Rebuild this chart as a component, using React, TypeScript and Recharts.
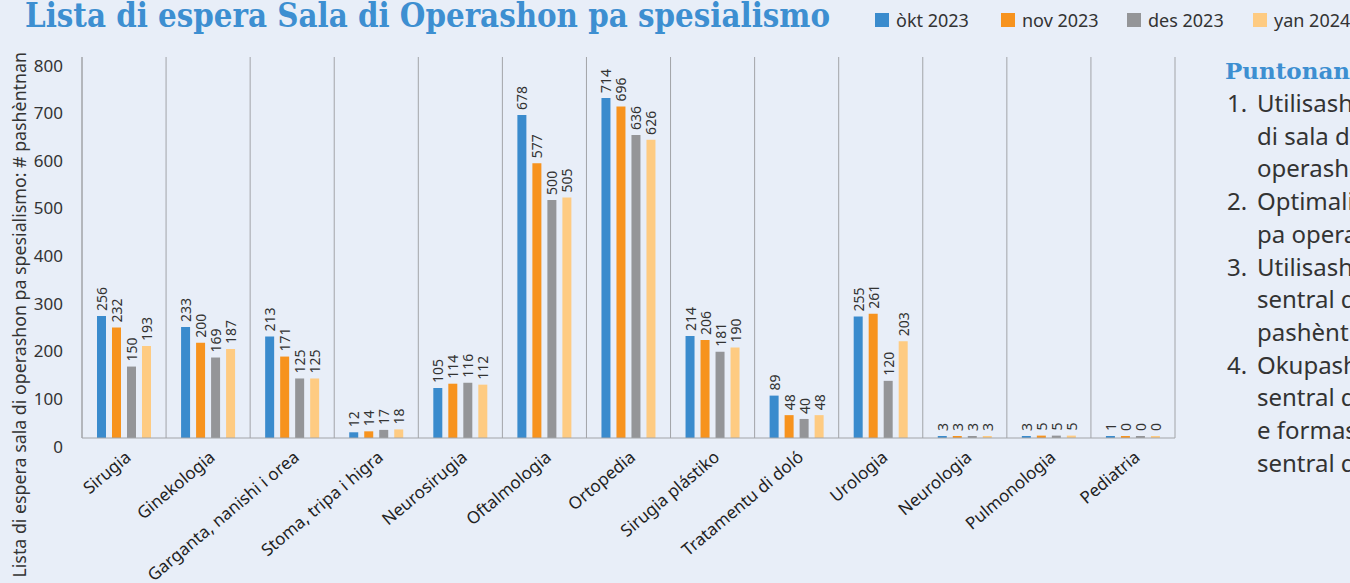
import React from 'react';
import { BarChart, Bar, XAxis, YAxis, LabelList, ReferenceLine } from 'recharts';

const categories = [
  'Sirugia',
  'Ginekologia',
  'Garganta, nanishi i orea',
  'Stoma, tripa i higra',
  'Neurosirugia',
  'Oftalmologia',
  'Ortopedia',
  'Sirugia plástiko',
  'Tratamentu di doló',
  'Urologia',
  'Neurologia',
  'Pulmonologia',
  'Pediatria',
];

const okt2023 = [256, 233, 213, 12, 105, 678, 714, 214, 89, 255, 3, 3, 1];
const nov2023 = [232, 200, 171, 14, 114, 577, 696, 206, 48, 261, 3, 5, 0];
const des2023 = [150, 169, 125, 17, 116, 500, 636, 181, 40, 120, 3, 5, 0];
const yan2024 = [193, 187, 125, 18, 112, 505, 626, 190, 48, 203, 3, 5, 0];

const yTicks = [0, 100, 200, 300, 400, 500, 600, 700, 800];

const series = [
  { key: 'okt', label: 'òkt 2023', values: okt2023, color: '#3a8bcd' },
  { key: 'nov', label: 'nov 2023', values: nov2023, color: '#f7931e' },
  { key: 'des', label: 'des 2023', values: des2023, color: '#949598' },
  { key: 'yan', label: 'yan 2024', values: yan2024, color: '#fecb82' },
];

const notes = [
  ['Utilisashon di tempu', 'di sala di', 'operashon'],
  ['Optimalisashon di tempu', 'pa operashon'],
  ['Utilisashon di kuido', 'sentral di', 'pashènt'],
  ['Okupashon di kama', 'sentral di', 'e formashon', 'sentral di'],
];

const data = categories.map((name, i) => {
  const row: Record<string, string | number> = { name };
  series.forEach((s) => {
    row[s.key] = s.values[i];
  });
  return row;
});

const BG = '#e8eef8';
const BLUE = '#3d8fd1';
const TEXT = '#333333';
const LINE = '#a2a4a8';

const BarValue = (props: any) => {
  const { x, y, width, value } = props;
  const cx = x + width / 2;
  const ty = y - 5;
  return (
    <text
      x={cx}
      y={ty}
      transform={`rotate(-90 ${cx} ${ty})`}
      textAnchor="start"
      dominantBaseline="central"
      fontSize={14}
      fill={TEXT}
    >
      {value}
    </text>
  );
};

const CategoryTick = (props: any) => {
  const { x, y, payload } = props;
  return (
    <g transform={`translate(${x + 8},${y + 13}) rotate(-40)`}>
      <text x={0} y={0} textAnchor="end" fontSize={17} fill="#222">
        {payload.value}
      </text>
    </g>
  );
};

const ValueTick = (props: any) => {
  const { x, y, payload } = props;
  return (
    <text x={x} y={y} dy={8} textAnchor="end" dominantBaseline="central" fontSize={17} fill={TEXT}>
      {payload.value}
    </text>
  );
};

export default function App() {
  const last = categories[categories.length - 1];

  return (
    <div
      style={{
        position: 'fixed',
        left: 0,
        top: 0,
        width: 1350,
        height: 583,
        background: BG,
        overflow: 'hidden',
        fontFamily: '"Noto Sans", sans-serif',
      }}
    >
      <svg width={1350} height={583} style={{ position: 'absolute', left: 0, top: 0 }}>
        <text
          x={25}
          y={27}
          fontFamily='"DejaVu Serif", serif'
          fontWeight="bold"
          fontSize={34}
          fill={BLUE}
          textLength={805}
          lengthAdjust="spacingAndGlyphs"
        >
          Lista di espera Sala di Operashon pa spesialismo
        </text>
        <text
          x={19}
          y={52}
          transform="rotate(-90 19 52)"
          textAnchor="end"
          dominantBaseline="central"
          fontSize={17.8}
          fill={TEXT}
        >
          Lista di espera sala di operashon pa spesialismo: # pashèntnan
        </text>
      </svg>

      <div style={{ position: 'absolute', left: 875, top: 8, display: 'flex' }}>
        {series.map((s) => (
          <div key={s.key} style={{ width: 126, display: 'flex', alignItems: 'center', whiteSpace: 'nowrap' }}>
            <span style={{ width: 14, height: 14, background: s.color, display: 'inline-block', marginRight: 7 }} />
            <span style={{ fontSize: 18, color: TEXT, lineHeight: '24px' }}>{s.label}</span>
          </div>
        ))}
      </div>

      <div style={{ position: 'absolute', left: 0, top: 0 }}>
        <BarChart
          width={1180}
          height={583}
          data={data}
          margin={{ top: 57, right: 5, left: 0, bottom: 0 }}
          barSize={9}
          barGap={6}
        >
          <XAxis
            dataKey="name"
            interval={0}
            tickLine={false}
            axisLine={{ stroke: LINE }}
            height={145}
            tick={<CategoryTick />}
          />
          <YAxis
            domain={[0, 800]}
            ticks={yTicks}
            width={82}
            tickLine={false}
            tickMargin={13}
            axisLine={{ stroke: LINE }}
            tick={<ValueTick />}
          />
          {categories.map((c) => (
            <ReferenceLine key={c} x={c} position="start" stroke={LINE} strokeWidth={1} />
          ))}
          <ReferenceLine x={last} position="end" stroke={LINE} strokeWidth={1} />
          {series.map((s) => (
            <Bar key={s.key} dataKey={s.key} fill={s.color} minPointSize={2} isAnimationActive={false}>
              <LabelList dataKey={s.key} content={<BarValue />} />
            </Bar>
          ))}
        </BarChart>
      </div>

      <div style={{ position: 'absolute', left: 1225, top: 55, whiteSpace: 'nowrap' }}>
        <div
          style={{
            fontFamily: '"DejaVu Serif", serif',
            fontWeight: 'bold',
            fontSize: 23,
            color: BLUE,
            lineHeight: '32px',
          }}
        >
          Puntonan
        </div>
        <div style={{ fontSize: 24, lineHeight: '32.7px', color: TEXT }}>
          {notes.map((lines, i) => (
            <div key={i} style={{ position: 'relative', paddingLeft: 32 }}>
              <span style={{ position: 'absolute', left: 2 }}>{i + 1}.</span>
              {lines.map((l, j) => (
                <div key={j}>{l}</div>
              ))}
            </div>
          ))}
        </div>
      </div>
    </div>
  );
}
